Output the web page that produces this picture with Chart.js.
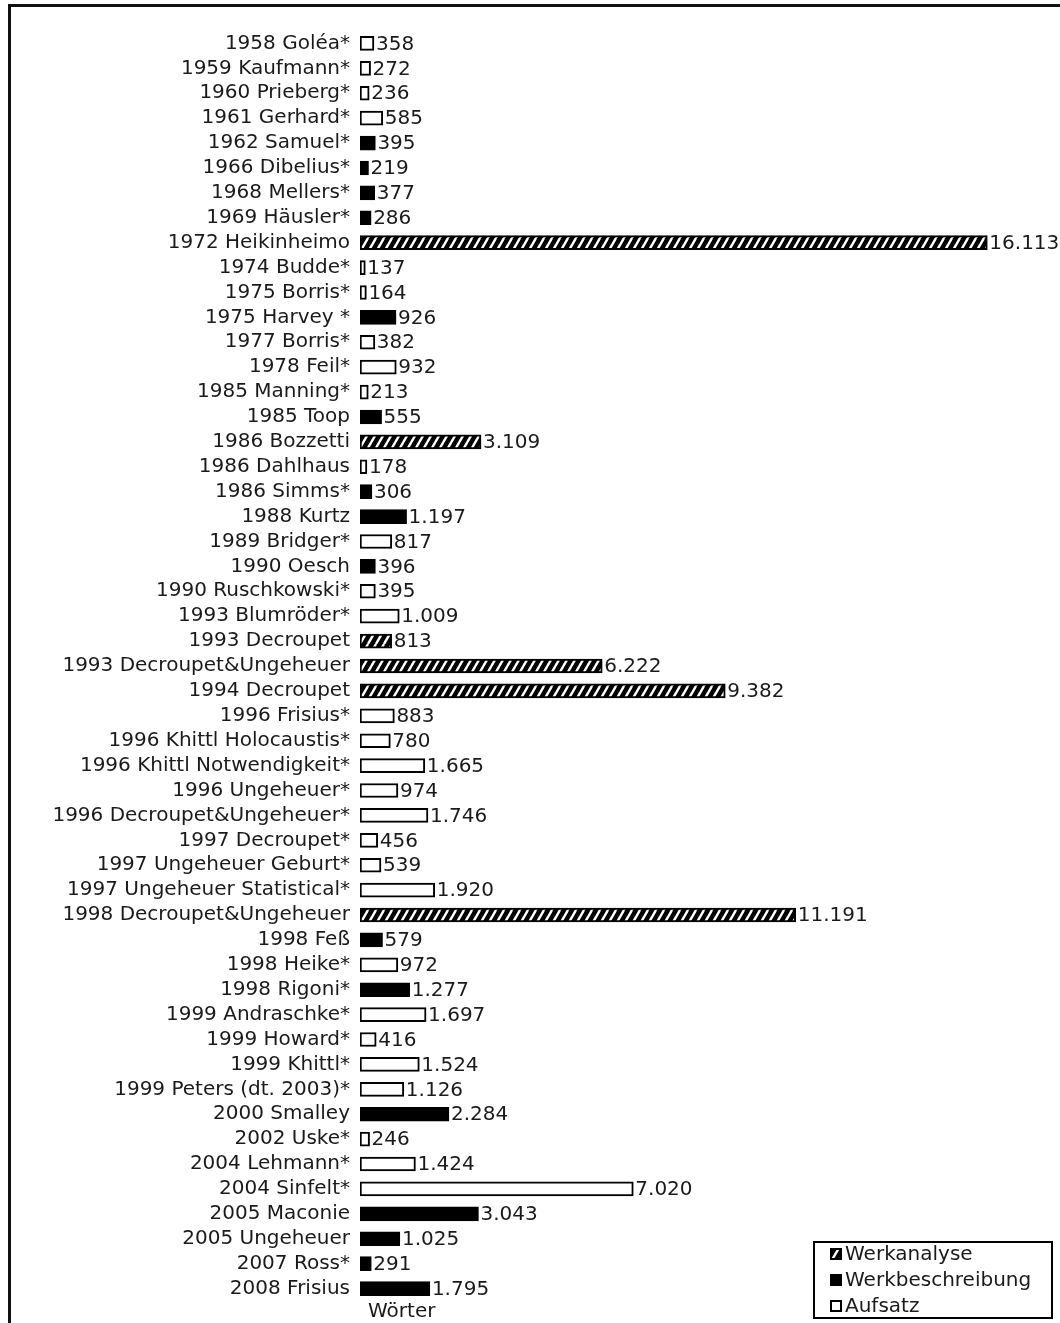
<!DOCTYPE html>
<html>
<head>
<meta charset="utf-8">
<script src="https://cdn.jsdelivr.net/npm/chart.js@4.4.1/dist/chart.umd.min.js"></script>
<style>
  html, body { margin: 0; padding: 0; background: #fff; }
</style>
</head>
<body>
<canvas id="chart" width="1060" height="1323"></canvas>
<script>
const categories = [
  "1958 Goléa*", "1959 Kaufmann*", "1960 Prieberg*", "1961 Gerhard*", "1962 Samuel*",
  "1966 Dibelius*", "1968 Mellers*", "1969 Häusler*", "1972 Heikinheimo", "1974 Budde*",
  "1975 Borris*", "1975 Harvey *", "1977 Borris*", "1978 Feil*", "1985 Manning*",
  "1985 Toop", "1986 Bozzetti", "1986 Dahlhaus", "1986 Simms*", "1988 Kurtz",
  "1989 Bridger*", "1990 Oesch", "1990 Ruschkowski*", "1993 Blumröder*", "1993 Decroupet",
  "1993 Decroupet&Ungeheuer", "1994 Decroupet", "1996 Frisius*", "1996 Khittl Holocaustis*", "1996 Khittl Notwendigkeit*",
  "1996 Ungeheuer*", "1996 Decroupet&Ungeheuer*", "1997 Decroupet*", "1997 Ungeheuer Geburt*", "1997 Ungeheuer Statistical*",
  "1998 Decroupet&Ungeheuer", "1998 Feß", "1998 Heike*", "1998 Rigoni*", "1999 Andraschke*",
  "1999 Howard*", "1999 Khittl*", "1999 Peters (dt. 2003)*", "2000 Smalley", "2002 Uske*",
  "2004 Lehmann*", "2004 Sinfelt*", "2005 Maconie", "2005 Ungeheuer", "2007 Ross*",
  "2008 Frisius"
];

// Wortzahl je Text
const words = [
  358, 272, 236, 585, 395,
  219, 377, 286, 16113, 137,
  164, 926, 382, 932, 213,
  555, 3109, 178, 306, 1197,
  817, 396, 395, 1009, 813,
  6222, 9382, 883, 780, 1665,
  974, 1746, 456, 539, 1920,
  11191, 579, 972, 1277, 1697,
  416, 1524, 1126, 2284, 246,
  1424, 7020, 3043, 1025, 291,
  1795
];

// W = Werkanalyse, B = Werkbeschreibung, A = Aufsatz
const kinds = [
  "A", "A", "A", "A", "B",
  "B", "B", "B", "W", "A",
  "A", "B", "A", "A", "A",
  "B", "W", "A", "B", "B",
  "A", "B", "A", "A", "W",
  "W", "W", "A", "A", "A",
  "A", "A", "A", "A", "A",
  "W", "B", "A", "B", "A",
  "A", "A", "A", "B", "A",
  "A", "A", "B", "B", "B",
  "B"
];

const seriesNames = { W: "Werkanalyse", B: "Werkbeschreibung", A: "Aufsatz" };
const axisTitle = "Wörter";

const FONT = "'DejaVu Sans', sans-serif";
const FONT_SIZE = 20;
const TEXT = "#1a1a1a";

const canvas = document.getElementById("chart");
const ctx = canvas.getContext("2d");

// schraffur fuer werkanalyse
function makeHatch() {
  const p = document.createElement("canvas");
  p.width = 8;
  p.height = 14;
  const g = p.getContext("2d");
  g.fillStyle = "#000";
  g.fillRect(0, 0, 8, 14);
  g.strokeStyle = "#fff";
  g.lineWidth = 2.4;
  g.beginPath();
  for (let k = -1; k <= 1; k++) {
    g.moveTo(k * 8, 14);
    g.lineTo(k * 8 + 8, 0);
  }
  g.stroke();
  return ctx.createPattern(p, "repeat");
}

const fills = { W: makeHatch(), B: "#000", A: "#fff" };

const formatDe = (v) => String(v).replace(/\B(?=(\d{3})+(?!\d))/g, ".");

const datasets = ["W", "B", "A"].map((k) => ({
  label: seriesNames[k],
  data: words.map((w, i) => (kinds[i] === k ? w : null)),
  backgroundColor: fills[k],
  borderColor: "#000",
  borderWidth: 2,
  borderSkipped: false,
  barThickness: 14,
}));

const framePlugin = {
  id: "frame",
  beforeDraw(chart) {
    const c = chart.ctx;
    c.save();
    c.fillStyle = "#fff";
    c.fillRect(0, 0, chart.width, chart.height);
    c.fillStyle = "#111";
    c.fillRect(8, 4, chart.width - 8, 3);
    c.fillRect(8, 4, 3, chart.height - 4);
    c.restore();
  },
};

const labelPlugin = {
  id: "valueLabels",
  afterDatasetsDraw(chart) {
    const c = chart.ctx;
    c.save();
    c.font = FONT_SIZE + "px " + FONT;
    c.fillStyle = TEXT;
    c.textAlign = "left";
    c.textBaseline = "middle";
    chart.data.datasets.forEach((ds, di) => {
      const meta = chart.getDatasetMeta(di);
      meta.data.forEach((el, i) => {
        const v = ds.data[i];
        if (v == null) return;
        c.fillText(formatDe(v), el.x + 2, el.y + 1);
      });
    });
    // achsentitel
    const xs = chart.scales.x;
    c.fillText(axisTitle, xs.left + 8, chart.chartArea.bottom + 11);
    c.restore();
  },
};

const legendPlugin = {
  id: "boxLegend",
  afterDraw(chart) {
    const c = chart.ctx;
    const right = chart.width - 8;
    const bottom = chart.height - 5;
    const w = 238, h = 76;
    const left = right - w, top = bottom - h;
    c.save();
    c.fillStyle = "#fff";
    c.fillRect(left, top, w, h);
    c.strokeStyle = "#000";
    c.lineWidth = 2;
    c.strokeRect(left, top, w, h);
    c.font = FONT_SIZE + "px " + FONT;
    c.textBaseline = "middle";
    chart.data.datasets.forEach((ds, i) => {
      const y = top + 12 + i * 26;
      c.fillStyle = ds.backgroundColor;
      c.fillRect(left + 16, y - 6, 12, 12);
      c.strokeStyle = "#000";
      c.lineWidth = 2;
      c.strokeRect(left + 17, y - 5, 10, 10);
      c.fillStyle = TEXT;
      c.fillText(ds.label, left + 31, y + 1);
    });
    c.restore();
  },
};

new Chart(canvas, {
  type: "bar",
  data: { labels: categories, datasets },
  plugins: [framePlugin, labelPlugin, legendPlugin],
  options: {
    indexAxis: "y",
    responsive: false,
    animation: false,
    devicePixelRatio: 1,
    layout: { padding: { left: 10, top: 31, right: 7, bottom: 0 } },
    plugins: {
      legend: { display: false },
      tooltip: { enabled: false },
    },
    scales: {
      x: {
        stacked: true,
        min: 0,
        max: 17800,
        ticks: { display: false },
        grid: { display: false, drawTicks: false },
        border: { display: false },
        afterFit: (s) => { s.height = 17; },
      },
      y: {
        stacked: true,
        ticks: {
          autoSkip: false,
          padding: 10,
          color: TEXT,
          font: { family: FONT, size: FONT_SIZE },
        },
        grid: { display: false, drawTicks: false },
        border: { display: false },
        afterFit: (s) => { s.width = 350; },
      },
    },
  },
});
</script>
</body>
</html>
